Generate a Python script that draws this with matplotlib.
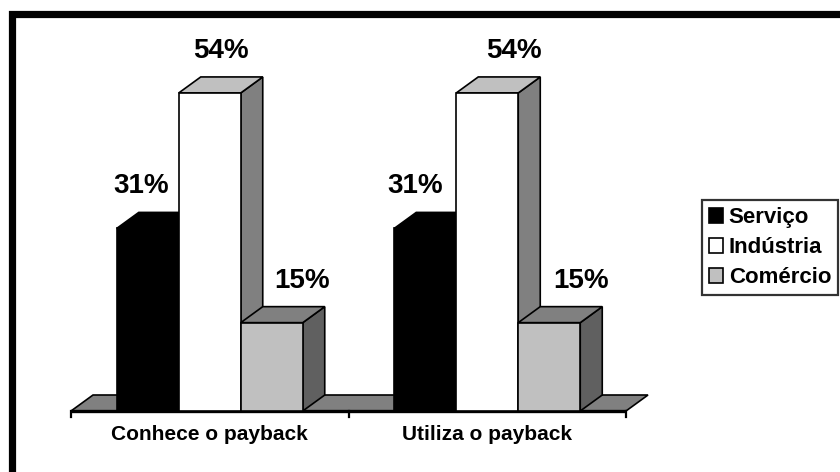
import matplotlib.pyplot as plt
from matplotlib.patches import Polygon, Rectangle, Patch

# Data
categories = ['Conhece o payback', 'Utiliza o payback']
series = ['Serviço', 'Indústria', 'Comércio']
values = {
    'Serviço': [31, 31],
    'Indústria': [54, 54],
    'Comércio': [15, 15],
}

# Styles (front, top, side)
face_colors = {
    'Serviço': ('#000000', '#000000', '#000000'),
    'Indústria': ('#ffffff', '#c0c0c0', '#808080'),
    'Comércio': ('#c0c0c0', '#808080', '#606060'),
}
# label x nudges in pixels (per group, per series)
label_nudge = [[-18, 0, 19], [-21, 16, 21]]

plt.rcParams['font.family'] = ['Liberation Sans', 'DejaVu Sans']
plt.rcParams['font.weight'] = 'bold'

fig = plt.figure(figsize=(8.4, 4.72), dpi=100)
W, H = 840, 472
# axes: x from px 71 to 626, y=0 at px 411, top at px 20
ax = fig.add_axes([71 / W, (H - 411) / H, 555 / W, 391 / H])
px_per_pct = 5.89
ax.set_xlim(0, len(categories))
ax.set_ylim(0, 391 / px_per_pct)
ax.axis('off')

px_per_cat = 555 / len(categories)
bar_w = 62 / px_per_cat
dx = 22 / px_per_cat
dy = 16 / px_per_pct
lw = 1.2
z = 2

# floor
floor = Polygon([(0, 0), (len(categories), 0), (len(categories) + dx, dy), (dx, dy)],
                closed=True, facecolor='#808080', edgecolor='black', lw=lw, zorder=z,
                clip_on=False)
ax.add_patch(floor)
z += 1
ax.plot([0, len(categories)], [0, 0], color='black', lw=2.4, zorder=z, clip_on=False,
        solid_capstyle='butt')
for t in range(len(categories) + 1):
    ax.plot([t, t], [0, -6 / px_per_pct], color='black', lw=1.6, clip_on=False, zorder=z)
z += 1

for g, cat in enumerate(categories):
    start = g + 0.5 - 1.5 * bar_w
    for s, name in enumerate(series):
        h = values[name][g]
        x0 = start + s * bar_w
        x1 = x0 + bar_w
        front_c, top_c, side_c = face_colors[name]
        side = Polygon([(x1, 0), (x1 + dx, dy), (x1 + dx, h + dy), (x1, h)],
                       facecolor=side_c, edgecolor='black', lw=lw, zorder=z)
        top = Polygon([(x0, h), (x1, h), (x1 + dx, h + dy), (x0 + dx, h + dy)],
                      facecolor=top_c, edgecolor='black', lw=lw, zorder=z + 1)
        front = Rectangle((x0, 0), bar_w, h, facecolor=front_c, edgecolor='black',
                          lw=lw, zorder=z + 2)
        for p in (side, top, front):
            ax.add_patch(p)
        z += 3
        xc = (x0 + x1) / 2 + dx / 2
        ax.annotate(f'{h}%', xy=(xc, h + dy),
                    xytext=(label_nudge[g][s] * 0.72, 26 * 0.72),
                    textcoords='offset points', ha='center', va='center',
                    fontsize=20, fontweight='bold', zorder=200)
    ax.text(g + 0.5, -24 / px_per_pct, cat, ha='center', va='center',
            fontsize=15, fontweight='bold')

# legend
handles = [Patch(facecolor=face_colors[n][0], edgecolor='black', lw=1.2) for n in series]
leg = fig.legend(handles, series, loc='center left',
                 bbox_to_anchor=(702 / W, 1 - 247.5 / H),
                 prop={'size': 16, 'weight': 'bold'}, frameon=True, fancybox=False,
                 edgecolor='black', handlelength=0.65, handleheight=0.65,
                 handletextpad=0.25, labelspacing=0.4, borderpad=0.3,
                 borderaxespad=0)
leg.get_frame().set_linewidth(1.6)

# outer frame (only left and top visible)
frame = Rectangle((12 / W, -0.1), 1.2, (H - 14) / H + 0.1, transform=fig.transFigure,
                  fill=False, edgecolor='black', lw=5.2, clip_on=False)
fig.patches.append(frame)

plt.savefig('out.png', dpi=100)
